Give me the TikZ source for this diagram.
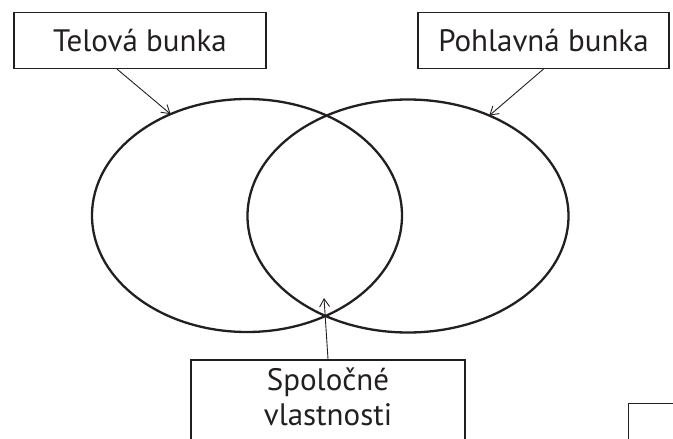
\documentclass[tikz,border=0pt]{standalone}
\usepackage{fontspec}
\setmainfont{PT Sans}
\usetikzlibrary{shapes.geometric,arrows.meta}
\definecolor{ink}{HTML}{231F20}
\begin{document}
\begin{tikzpicture}[x=1pt,y=-1pt,
  lbl/.style={draw=ink, line width=1.5pt, text=ink, font=\fontsize{31}{35}\selectfont, inner sep=0pt, align=center},
  vset/.style={ellipse, draw=ink, line width=2.3pt, inner sep=0pt, outer sep=0pt},
  pointer/.style={draw=ink, line width=0.9pt, -{Straight Barb[length=8pt,width=10pt]}}]
\useasboundingbox (0,0) rectangle (673,439);
\clip (0,0) rectangle (673,439);
\node[vset, minimum width=310pt, minimum height=233pt] (L) at (247,215.5) {};
\node[vset, minimum width=321pt, minimum height=233pt] (R) at (408,216) {};
\node[lbl, minimum width=252pt, minimum height=55.6pt] (T) at (140,40.5) {Telová bunka};
\node[lbl, minimum width=251pt, minimum height=55.6pt] (P) at (543.5,40.5) {Pohlavná bunka};
\node[lbl, anchor=north, minimum width=274pt, inner ysep=8pt, text depth=30pt] (S) at (328,359) {Spoločné\\vlastnosti};
\node[draw=ink, line width=1.2pt, anchor=north west, minimum width=100pt, minimum height=80pt] (Q) at (628,403) {};
\coordinate (lens) at (324,298);
\draw[pointer] ([xshift=-23pt]T.south) -- (L.127.6);
\draw[pointer] (P.south) -- (R.51.8);
\draw[pointer] (S.north) -- (lens);
\end{tikzpicture}
\end{document}
